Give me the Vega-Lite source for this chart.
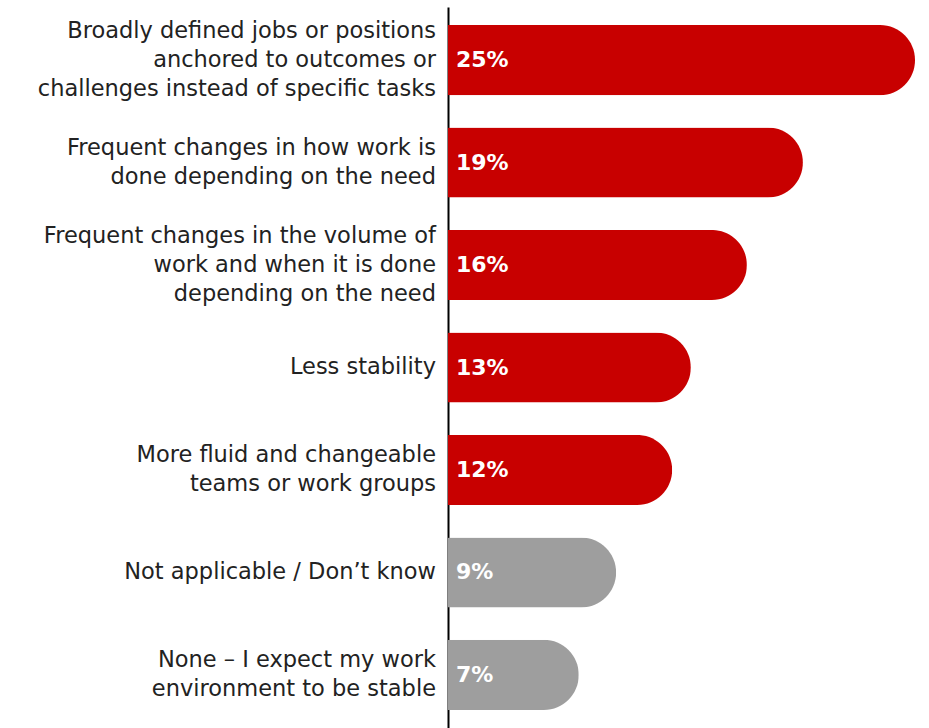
{
  "$schema": "https://vega.github.io/schema/vega-lite/v6.json",
  "autosize": {"type": "none"},
  "padding": {"left": 448, "top": 7, "right": 0, "bottom": 0},
  "width": 467,
  "height": 721,
  "background": "white",
  "config": {"view": {"stroke": null}},
  "data": {
    "values": [
      {"label": "Broadly defined jobs or positions|anchored to outcomes or|challenges instead of specific tasks", "pct": 0.25, "group": "change"},
      {"label": "Frequent changes in how work is|done depending on the need", "pct": 0.19, "group": "change"},
      {"label": "Frequent changes in the volume of|work and when it is done|depending on the need", "pct": 0.16, "group": "change"},
      {"label": "Less stability", "pct": 0.13, "group": "change"},
      {"label": "More fluid and changeable|teams or work groups", "pct": 0.12, "group": "change"},
      {"label": "Not applicable / Don’t know", "pct": 0.09, "group": "other"},
      {"label": "None – I expect my work|environment to be stable", "pct": 0.07, "group": "other"}
    ]
  },
  "transform": [
    {"calculate": "split(datum.label, '|')", "as": "lines"},
    {"calculate": "35 - (length(datum.lines) - 1) * 14.5", "as": "lineShift"}
  ],
  "encoding": {
    "y": {
      "field": "label",
      "type": "nominal",
      "sort": null,
      "scale": {"paddingInner": 0.316, "paddingOuter": 0.176},
      "axis": {
        "title": null,
        "ticks": false,
        "labels": false,
        "domainColor": "#000000",
        "domainWidth": 2
      }
    },
    "x": {
      "field": "pct",
      "type": "quantitative",
      "scale": {"domain": [0, 0.25], "nice": false},
      "axis": null
    }
  },
  "layer": [
    {
      "mark": {"type": "bar", "cornerRadiusEnd": 35},
      "encoding": {
        "color": {
          "field": "group",
          "type": "nominal",
          "scale": {"domain": ["change", "other"], "range": ["#C80000", "#9E9E9E"]},
          "legend": null
        }
      }
    },
    {
      "mark": {"type": "text", "align": "left", "baseline": "middle", "dx": 8, "color": "white", "font": "DejaVu Sans", "fontWeight": "bold", "fontSize": 22},
      "encoding": {
        "x": {"datum": 0},
        "text": {"field": "pct", "type": "quantitative", "format": ".0%"}
      }
    },
    {
      "mark": {"type": "text", "align": "right", "baseline": "middle", "dx": -12, "color": "#222222", "font": "DejaVu Sans", "fontSize": 22.5, "lineHeight": 29},
      "encoding": {
        "x": {"datum": 0},
        "yOffset": {"field": "lineShift", "type": "quantitative", "scale": null},
        "text": {"field": "lines"}
      }
    }
  ]
}
